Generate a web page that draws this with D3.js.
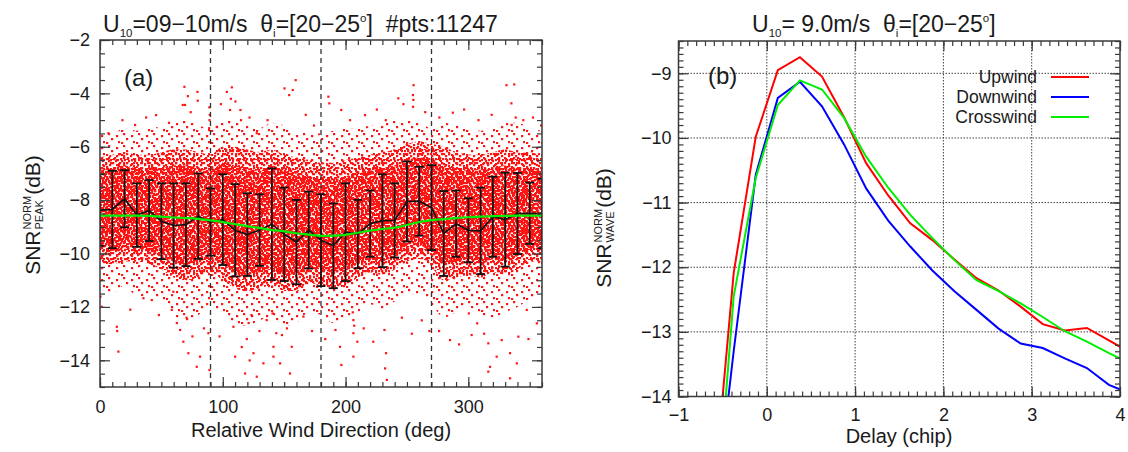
<!DOCTYPE html>
<html>
<head>
<meta charset="utf-8">
<script src="https://cdn.jsdelivr.net/npm/d3@7"></script>
<style>
	body { margin: 0; background: #fff; }
	text { font-family: "Liberation Sans", Arial, Helvetica, sans-serif; fill: #1a1a1a; }
	.rich { opacity: 0.995; }
</style>
</head>
<body>
<svg id="chart" width="1128" height="452"></svg>
<script>
/*
	Data.
	(a) bins of relative wind direction, mean and std of the peak SNR, a fitted curve,
	    the envelopes of the red point cloud and the isolated points outside it.
	(b) SNR waveforms against delay for the three wind directions.
*/
const binDeg = [0,10,20,30,40,50,60,70,80,90,100,110,120,130,140,150,160,170,180,
	190,200,210,220,230,240,250,260,270,280,290,300,310,320,330,340,350,360];
const meanSnr = [-8.37,-8.35,-7.95,-8.56,-8.39,-8.79,-8.95,-8.92,-8.60,-8.82,-8.73,-9.13,-9.29,-9.12,-8.90,-9.28,-9.57,-9.12,-9.50,
	-9.71,-9.20,-9.27,-8.88,-8.77,-8.76,-8.05,-8.04,-8.28,-9.25,-8.88,-9.13,-9.15,-8.62,-8.73,-8.50,-8.49,-8.50];
const stdSnr = [1.34,1.45,1.07,1.19,1.14,1.42,1.58,1.55,1.60,1.26,1.70,1.73,1.55,1.34,2.09,1.75,1.58,1.44,1.72,
	1.59,1.83,1.28,1.24,1.74,1.39,1.50,1.29,1.59,1.59,1.24,1.20,1.62,1.50,1.76,1.52,1.15,1.30];
const fitSnr = [-8.58,-8.58,-8.58,-8.58,-8.59,-8.62,-8.65,-8.67,-8.70,-8.76,-8.82,-8.90,-8.97,-9.05,-9.12,-9.17,-9.24,-9.29,-9.34,
	-9.33,-9.30,-9.22,-9.14,-9.08,-9.03,-8.93,-8.82,-8.75,-8.71,-8.67,-8.64,-8.62,-8.60,-8.59,-8.58,-8.58,-8.58];

// envelopes of the cloud (dB): solid middle, dense part, thin fringe
const innerTop = [-6.9,-6.8,-6.7,-6.8,-6.8,-6.8,-6.7,-6.7,-6.8,-6.9,-6.6,-6.7,-6.8,-6.9,-6.7,-6.9,-7.0,-7.1,-7.2,
	-7.2,-7.1,-7.0,-6.9,-6.8,-6.7,-6.5,-6.4,-6.5,-6.7,-6.8,-6.9,-6.9,-6.8,-6.7,-6.8,-6.8,-6.9];
const innerBot = [-9.8,-9.9,-9.8,-9.8,-9.9,-10.1,-10.3,-10.4,-10.3,-10.2,-10.4,-10.7,-10.8,-10.7,-10.6,-10.8,-10.8,-10.5,-10.6,
	-10.7,-10.6,-10.4,-10.2,-10.3,-10.1,-9.8,-9.7,-10.0,-10.4,-10.3,-10.2,-10.3,-10.2,-10.3,-10.1,-9.8,-9.8];
const coreTop = [-6.4,-6.3,-6.2,-6.3,-6.3,-6.2,-6.1,-6.1,-6.2,-6.3,-6.0,-6.0,-6.1,-6.2,-6.1,-6.3,-6.4,-6.5,-6.6,
	-6.6,-6.5,-6.4,-6.3,-6.2,-6.1,-5.9,-5.8,-5.9,-6.0,-6.2,-6.3,-6.3,-6.2,-6.1,-6.2,-6.2,-6.4];
const coreBot = [-10.3,-10.4,-10.3,-10.3,-10.4,-10.6,-10.9,-11.0,-10.9,-10.7,-11.0,-11.3,-11.4,-11.3,-11.2,-11.4,-11.4,-11.1,-11.2,
	-11.3,-11.2,-10.9,-10.7,-10.8,-10.6,-10.3,-10.2,-10.5,-11.0,-10.9,-10.8,-10.9,-10.7,-10.8,-10.6,-10.3,-10.3];
const fringeTop = [-5.4,-5.5,-5.3,-5.4,-5.2,-5.3,-5.1,-5.0,-5.2,-5.3,-5.0,-5.0,-5.2,-5.3,-5.1,-5.2,-5.4,-5.5,-5.5,
	-5.4,-5.3,-5.3,-5.2,-5.1,-5.0,-5.0,-5.1,-5.3,-5.1,-5.2,-5.3,-5.4,-5.2,-5.1,-5.1,-5.3,-5.4];
const fringeBot = [-11.3,-11.5,-11.2,-11.6,-11.6,-11.8,-12.3,-12.6,-12.3,-12.0,-12.2,-12.6,-12.7,-12.5,-12.4,-12.7,-12.6,-12.2,-12.3,
	-12.6,-12.5,-12.2,-11.9,-12.1,-11.8,-11.5,-11.6,-11.9,-12.4,-12.2,-12.0,-12.3,-12.4,-12.2,-12.0,-11.7,-11.5];

// isolated points [deg, dB]
const strayPts = [
	[150.2,-3.81],[154,-4.06],[156.9,-3.87],[159.3,-3.5],[185.9,-4.12],[186.7,-4.37],[196.4,-4.62],[242.9,-4.18],
	[255.3,-3.69],[254.8,-4.06],[255.1,-4.24],[254.9,-4.5],[331,-3.69],[337.3,-3.66],[335,-4.37],[338.5,-4.9],
	[215.8,-4.81],[287.3,-4.72],[335.2,-5.18],[344.7,-5.0],[68.7,-3.75],[79.3,-3.94],[79.5,-4.27],[69.2,-4.43],
	[89,-4.52],[89.1,-5.0],[103.2,-3.94],[107.3,-3.77],[114.3,-4.62],[114.8,-5.0],[105.9,-4.62],[45.6,-4.81],
	[67.3,-4.43],[6.8,-5.49],[28.5,-5.18],[127.6,-5.49],[95,-5.25],[106.5,-4.2],[89.3,-4.8],[88.8,-5.3],
	[18.2,-5.0],[37.5,-4.9],[56.1,-5.1],[73.8,-4.7],[98.4,-4.4],[121.7,-4.9],[136.4,-5.0],[167.5,-4.8],
	[174.2,-5.2],[203.6,-5.0],[225.4,-4.6],[232.7,-5.0],[264.8,-4.7],[276.3,-4.9],[296.5,-4.6],[308.2,-5.0],
	[318.9,-4.8],[352.6,-4.9],[359.2,-5.2],[247.1,-4.4],[110.2,-4.3],[71.5,-4.1],
	[0.3,-11.61],[1.2,-11.99],[13.6,-12.74],[14.9,-13.67],[13.9,-12.9],[35.3,-11.67],[42.1,-11.74],[65.2,-12.86],
	[71.9,-13.73],[78.7,-14.24],[81.4,-13.86],[88.2,-12.98],[89.1,-14.36],[108.6,-12.74],[110,-13.86],[118.1,-14.49],
	[127.6,-14.61],[124.9,-13.73],[135.7,-12.49],[133,-14.11],[141.2,-13.49],[58.4,-12.11],[59.7,-11.43],
	[143.5,-12.98],[148.1,-13.05],[141.2,-13.86],[146.6,-14.11],[154.7,-14.49],[156.1,-13.49],[165.6,-12.36],
	[191.7,-12.86],[196.5,-14.17],[195.4,-13.49],[206.3,-12.49],[206.3,-12.98],[206.3,-13.86],[231.6,-12.86],
	[232.9,-13.73],[232.1,-14.3],[233.5,-14.73],[285,-13.24],[302.6,-13.05],[316.2,-13.36],[316.2,-14.42],
	[323,-13.86],[333.9,-13.73],[333.9,-14.67],[339.4,-14.11],[340.7,-13.11],[347.5,-12.11],[355.7,-12.61],
	[300.3,-12.24],[307.1,-12.61],[327.1,-13.24],[317.6,-14.24],[140.5,-12.24],[119.5,-13.2],[121,-12.6],
	[75.2,-13.1],[62.5,-12.6],[205.8,-12.2],[207,-12.7],[268.2,-12.9],[262,-12.5],[121.8,-14.0],[70.4,-12.4],
	[24.6,-12.1],[47.9,-12.3],[84.6,-12.8],[97.3,-13.1],[115.4,-13.5],[129.8,-12.9],[152.2,-12.8],[172.6,-12.9],
	[183.4,-13.2],[214.7,-12.8],[222.5,-13.3],[245.8,-12.4],[253.9,-13.0],[276.1,-12.9],[292.4,-13.4],[312.8,-13.0],
	[348.9,-13.2],[123.3,-12.3],[67.8,-13.3],[209.5,-13.3]
];
const windMarks = [90, 180, 270];

const delayChip = [-0.625,-0.375,-0.125,0.125,0.375,0.625,0.875,1.125,1.375,1.625,1.875,2.125,2.375,2.625,2.875,3.125,3.375,3.625,3.875,4.125];
const upwind = [-15.9,-12.09,-9.98,-8.95,-8.75,-9.05,-9.68,-10.39,-10.89,-11.32,-11.58,-11.88,-12.17,-12.36,-12.61,-12.88,-12.98,-12.94,-13.13,-13.33];
const downwind = [-16.25,-13.30,-10.57,-9.38,-9.13,-9.51,-10.10,-10.78,-11.28,-11.68,-12.05,-12.37,-12.66,-12.95,-13.18,-13.25,-13.41,-13.56,-13.82,-13.96];
const crosswind = [-16.8,-12.45,-10.62,-9.49,-9.11,-9.25,-9.69,-10.29,-10.77,-11.19,-11.55,-11.89,-12.20,-12.37,-12.56,-12.77,-12.99,-13.15,-13.33,-13.49];
const seriesNames = ['Upwind', 'Downwind', 'Crosswind'];
const seriesColors = ['#ff0000', '#0000ff', '#00ee00'];


const svg = d3.select('#chart');
const axisColor = '#3a3a3a';
const dotColor = '#ff1414';
const defs = svg.append('defs');

// dot textures for the point cloud; tiles of different sizes are layered so no grid shows
function dotPattern(id, w, h, dots) {
	const p = defs.append('pattern')
		.attr('id', id)
		.attr('patternUnits', 'userSpaceOnUse')
		.attr('width', w).attr('height', h);
	dots.forEach(d => p.append('rect')
		.attr('x', d[0]).attr('y', d[1])
		.attr('width', 2.2).attr('height', 2.2)
		.attr('fill', dotColor));
}
dotPattern('texA', 7, 9, [[0,0],[4,2],[1,5],[5,6]]);
dotPattern('texB', 11, 8, [[2,1],[7,0],[9,4],[4,5],[0,6],[6,3]]);
dotPattern('texC', 13, 10, [[6,2],[1,3],[10,7],[3,8],[8,9],[11,0],[4,0]]);
dotPattern('texD', 15, 12, [[3,1],[11,3],[6,6],[13,9],[1,10]]);
dotPattern('texE', 9, 7, [[1,1],[5,0],[3,4],[7,3],[0,5]]);


// tick helper: inward ticks on all four sides
function frame(g, x, y, o) {
	const x0 = x.range()[0], xr = x.range()[1], yb = y.range()[0], yt = y.range()[1];

	const put = (axis, tx, ty, labels) => {
		const a = g.append('g').attr('transform', `translate(${tx},${ty})`).call(axis);
		a.select('.domain').remove();
		a.selectAll('line').attr('stroke', axisColor).attr('stroke-width', 1.2);
		if (labels) a.selectAll('text').style('font-size', '18px').attr('fill', '#1a1a1a');
		else a.selectAll('text').remove();
	};

	put(d3.axisBottom(x).tickValues(o.xMinor).tickSize(-5), 0, yb, false);
	put(d3.axisBottom(x).tickValues(o.xMajor).tickSize(-10).tickPadding(o.xPad).tickFormat(d3.format('d')), 0, yb, true);
	put(d3.axisTop(x).tickValues(o.xMinor).tickSize(-5), 0, yt, false);
	put(d3.axisTop(x).tickValues(o.xMajor).tickSize(-10), 0, yt, false);
	put(d3.axisLeft(y).tickValues(o.yMinor).tickSize(-5), x0, 0, false);
	put(d3.axisLeft(y).tickValues(o.yMajor).tickSize(-10).tickPadding(o.yPad).tickFormat(d3.format('d')), x0, 0, true);
	put(d3.axisRight(y).tickValues(o.yMinor).tickSize(-5), xr, 0, false);
	put(d3.axisRight(y).tickValues(o.yMajor).tickSize(-10), xr, 0, false);

	g.append('rect')
		.attr('x', x0).attr('y', yt).attr('width', xr - x0).attr('height', yb - yt)
		.attr('fill', 'none').attr('stroke', axisColor).attr('stroke-width', 1.5);
}

// text with sub/superscripts, parts = [[text, 'sub'|'sup'|''], ...]
function richText(g, x, y, size, parts) {
	const t = g.append('text').attr('class', 'rich').attr('x', x).attr('y', y)
		.style('font-size', size + 'px')
		.style('white-space', 'pre');
	let shift = 0;
	parts.forEach(p => {
		const target = p[1] === 'sub' ? size * 0.22 : p[1] === 'sup' ? -size * 0.42 : 0;
		t.append('tspan')
			.attr('dy', target - shift)
			.attr('fill', '#1a1a1a')
			.style('font-size', p[1] ? (size * 0.5) + 'px' : size + 'px')
			.text(p[0]);
		shift = target;
	});
	return t;
}

// rotated y label: SNR with stacked NORM / sub-label, then (dB)
function snrLabel(g, cx, cy, subLabel) {
	const r = g.append('g').attr('transform', `translate(${cx},${cy}) rotate(-90)`);
	const big = 21, small = 11;
	const a = r.append('text').style('font-size', big + 'px').text('SNR');
	const wa = a.node().getComputedTextLength();
	const b = r.append('text').style('font-size', small + 'px').attr('x', wa + 1).attr('y', -9).text('NORM');
	const c = r.append('text').style('font-size', small + 'px').attr('x', wa + 1).attr('y', 3).text(subLabel);
	const wb = Math.max(b.node().getComputedTextLength(), c.node().getComputedTextLength());
	const d = r.append('text').style('font-size', big + 'px').attr('x', wa + wb + 2).text('(dB)');
	const total = wa + wb + 2 + d.node().getComputedTextLength();
	r.selectAll('text').attr('transform', `translate(${-total / 2},0)`);
}


/* ---------------- panel (a) ---------------- */
const xA = d3.scaleLinear().domain([0, 360]).range([100, 542]);
const yA = d3.scaleLinear().domain([-15, -2]).range([387, 40]);
const gA = svg.append('g');

defs.append('clipPath').attr('id', 'clipA').append('rect')
	.attr('x', 100).attr('y', 40).attr('width', 442).attr('height', 347);
const plotA = gA.append('g').attr('clip-path', 'url(#clipA)');

const band = (lo, hi) => d3.area()
	.x((d, i) => xA(binDeg[i]))
	.y0((d, i) => yA(lo[i]))
	.y1((d, i) => yA(hi[i]))
	.curve(d3.curveMonotoneX);

[
	[fringeBot, fringeTop, 'texD'],
	[coreBot, coreTop, 'texA'],
	[coreBot, coreTop, 'texC'],
	[innerBot, innerTop, 'texB'],
	[innerBot, innerTop, 'texE']
].forEach(b => plotA.append('path')
	.datum(binDeg)
	.attr('d', band(b[0], b[1]))
	.attr('fill', `url(#${b[2]})`));

plotA.selectAll('rect.stray')
	.data(strayPts)
	.enter()
	.append('rect')
	.attr('class', 'stray')
	.attr('x', d => xA(d[0]) - 1)
	.attr('y', d => yA(d[1]) - 1)
	.attr('width', 2.2).attr('height', 2.2)
	.attr('fill', dotColor);

plotA.selectAll('line.mark')
	.data(windMarks)
	.enter()
	.append('line')
	.attr('class', 'mark')
	.attr('x1', d => xA(d)).attr('x2', d => xA(d))
	.attr('y1', yA(-15)).attr('y2', yA(-2))
	.attr('stroke', '#333').attr('stroke-width', 1.3)
	.attr('stroke-dasharray', '5,4');

// error bars
const lo = i => yA(meanSnr[i] - stdSnr[i]);
const hi = i => yA(meanSnr[i] + stdSnr[i]);
const bars = plotA.selectAll('g.bar')
	.data(binDeg)
	.enter()
	.append('g')
	.attr('class', 'bar');
bars.append('line')
	.attr('x1', d => xA(d)).attr('x2', d => xA(d))
	.attr('y1', (d, i) => lo(i)).attr('y2', (d, i) => hi(i));
bars.append('line')
	.attr('x1', d => xA(d) - 4.5).attr('x2', d => xA(d) + 4.5)
	.attr('y1', (d, i) => lo(i)).attr('y2', (d, i) => lo(i));
bars.append('line')
	.attr('x1', d => xA(d) - 4.5).attr('x2', d => xA(d) + 4.5)
	.attr('y1', (d, i) => hi(i)).attr('y2', (d, i) => hi(i));
bars.selectAll('line').attr('stroke', '#111').attr('stroke-width', 1.8);

plotA.append('path')
	.datum(binDeg)
	.attr('d', d3.line().x(d => xA(d)).y((d, i) => yA(meanSnr[i])))
	.attr('fill', 'none').attr('stroke', '#111').attr('stroke-width', 1.7);

plotA.append('path')
	.datum(binDeg)
	.attr('d', d3.line().x(d => xA(d)).y((d, i) => yA(fitSnr[i])).curve(d3.curveMonotoneX))
	.attr('fill', 'none').attr('stroke', '#00ee00').attr('stroke-width', 2.2);

frame(gA, xA, yA, {
	xMajor: [0, 100, 200, 300], xMinor: d3.range(0, 361, 10), xPad: 13,
	yMajor: [-14, -12, -10, -8, -6, -4, -2], yMinor: d3.range(-15, -1.9, 0.5), yPad: 10
});

gA.append('text').attr('x', 124).attr('y', 86).style('font-size', '24px').text('(a)');
richText(gA, 103, 32, 23, [['U', ''], ['10', 'sub'], ['=09\u221210m/s  \u03b8', ''], ['i', 'sub'],
	['=[20\u221225', ''], ['o', 'sup'], [']  #pts:11247', '']]);
gA.append('text').attr('x', 321).attr('y', 437).attr('text-anchor', 'middle')
	.style('font-size', '20px').text('Relative Wind Direction (deg)');
snrLabel(gA, 40, 215, 'PEAK');


/* ---------------- panel (b) ---------------- */
const xB = d3.scaleLinear().domain([-1, 4]).range([678.5, 1120]);
const yB = d3.scaleLinear().domain([-14, -8.5]).range([396.5, 41]);
const gB = svg.append('g');

defs.append('clipPath').attr('id', 'clipB').append('rect')
	.attr('x', 678.5).attr('y', 41).attr('width', 441.5).attr('height', 355.5);
const plotB = gB.append('g').attr('clip-path', 'url(#clipB)');

// dotted grid
plotB.selectAll('line.gx')
	.data([0, 1, 2, 3])
	.enter()
	.append('line')
	.attr('class', 'gx')
	.attr('x1', d => xB(d)).attr('x2', d => xB(d))
	.attr('y1', yB(-14)).attr('y2', yB(-8.5));
plotB.selectAll('line.gy')
	.data([-13, -12, -11, -10, -9])
	.enter()
	.append('line')
	.attr('class', 'gy')
	.attr('x1', xB(-1)).attr('x2', xB(4))
	.attr('y1', d => yB(d)).attr('y2', d => yB(d));
plotB.selectAll('line.gx, line.gy')
	.attr('stroke', '#444').attr('stroke-width', 1).attr('stroke-dasharray', '1.5,1.5');

const waves = [upwind, downwind, crosswind];
const waveLine = d3.line().x((d, i) => xB(delayChip[i])).y(d => yB(d));
plotB.selectAll('path.wave')
	.data(waves)
	.enter()
	.append('path')
	.attr('class', 'wave')
	.attr('d', waveLine)
	.attr('fill', 'none')
	.attr('stroke', (d, i) => seriesColors[i])
	.attr('stroke-width', 2);

frame(gB, xB, yB, {
	xMajor: [-1, 0, 1, 2, 3, 4], xMinor: d3.range(-1, 4.01, 0.1), xPad: 12,
	yMajor: [-14, -13, -12, -11, -10, -9], yMinor: d3.range(-14, -8.49, 0.1), yPad: 7
});

// legend
const leg = gB.selectAll('g.leg')
	.data(seriesNames)
	.enter()
	.append('g')
	.attr('class', 'leg')
	.attr('transform', (d, i) => `translate(0,${77 + i * 20})`);
leg.append('text')
	.attr('x', 1037).attr('y', 6).attr('text-anchor', 'end')
	.style('font-size', '17.5px').text(d => d);
leg.append('line')
	.attr('x1', 1051).attr('x2', 1089).attr('y1', 0).attr('y2', 0)
	.attr('stroke', (d, i) => seriesColors[i]).attr('stroke-width', 2);

gB.append('text').attr('x', 708).attr('y', 84).style('font-size', '24px').text('(b)');
richText(gB, 752, 32, 23, [['U', ''], ['10', 'sub'], ['= 9.0m/s  \u03b8', ''], ['i', 'sub'],
	['=[20\u221225', ''], ['o', 'sup'], [']', '']]);
gB.append('text').attr('x', 899).attr('y', 443).attr('text-anchor', 'middle')
	.style('font-size', '20px').text('Delay (chip)');
snrLabel(gB, 611, 228, 'WAVE');
</script>
</body>
</html>
